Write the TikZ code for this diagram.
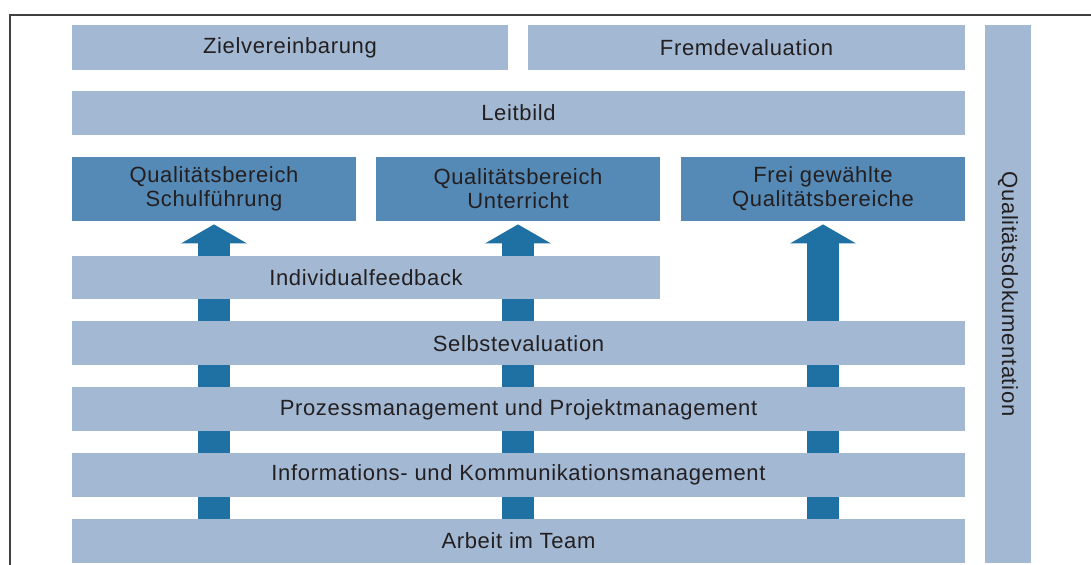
\documentclass[tikz,border=0pt]{standalone}
\usepackage{fontspec}
\setmainfont{Liberation Sans}[LetterSpace=3]
\usetikzlibrary{arrows.meta,backgrounds}
\definecolor{barblue}{HTML}{A3B8D3}
\definecolor{areablue}{HTML}{5589B6}
\definecolor{arrowblue}{HTML}{1F70A3}
\definecolor{textgray}{HTML}{231F20}
\begin{document}
\begin{tikzpicture}[x=0.5pt,y=-0.5pt, every node/.style={font=\fontsize{11}{12}\selectfont,text=textgray,inner sep=0pt},
  bar/.style={fill=barblue,minimum height=22pt},
  area/.style={fill=areablue,minimum height=32pt,minimum width=142pt,align=center},
  lift/.style={draw=arrowblue,line width=16pt,-{Triangle[width=32.5pt,length=9.5pt]},shorten >=1.5pt}]
\useasboundingbox (0,0) rectangle (1091,565);
\draw[line width=1pt,draw=black!75] (1091,15) -| (10,565);
% Ziele und Leitbild
\node[bar,minimum width=218pt,minimum height=22.5pt] (ziel) at (290,47.5) {Zielvereinbarung};
\node[bar,minimum width=218.5pt,minimum height=22.5pt] (fremd) at (746.5,47.5) {Fremdevaluation};
\node[bar,minimum width=446.5pt] (leitbild) at (518.5,113) {Leitbild};
% Qualitaetsbereiche
\node[area] (qs1) at (214,189) {Qualitätsbereich\\Schulführung};
\node[area] (qs2) at (518,189) {Qualitätsbereich\\Unterricht};
\node[area] (qs3) at (823,189) {Frei gewählte\\Qualitätsbereiche};
% Grundlagen
\node[bar,minimum width=294pt,minimum height=21.5pt] (indiv) at (366,277.5) {Individualfeedback};
\node[bar,minimum width=446.5pt] (selbst) at (518.5,343.5) {Selbstevaluation};
\node[bar,minimum width=446.5pt] (prozess) at (518.5,409.5) {Prozessmanagement und Projektmanagement};
\node[bar,minimum width=446.5pt] (info) at (518.5,475) {Informations- und Kommunikationsmanagement};
\node[bar,minimum width=446.5pt] (team) at (518.5,541) {Arbeit im Team};
\node[bar,minimum width=269pt,minimum height=23pt,rotate=-90] (doku) at (1008,294) {Qualitätsdokumentation};
\begin{scope}[on background layer]
\draw[lift] (team.north -| qs1.south) -- (qs1.south);
\draw[lift] (team.north -| qs2.south) -- (qs2.south);
\draw[lift] (team.north -| qs3.south) -- (qs3.south);
\end{scope}
\end{tikzpicture}
\end{document}
